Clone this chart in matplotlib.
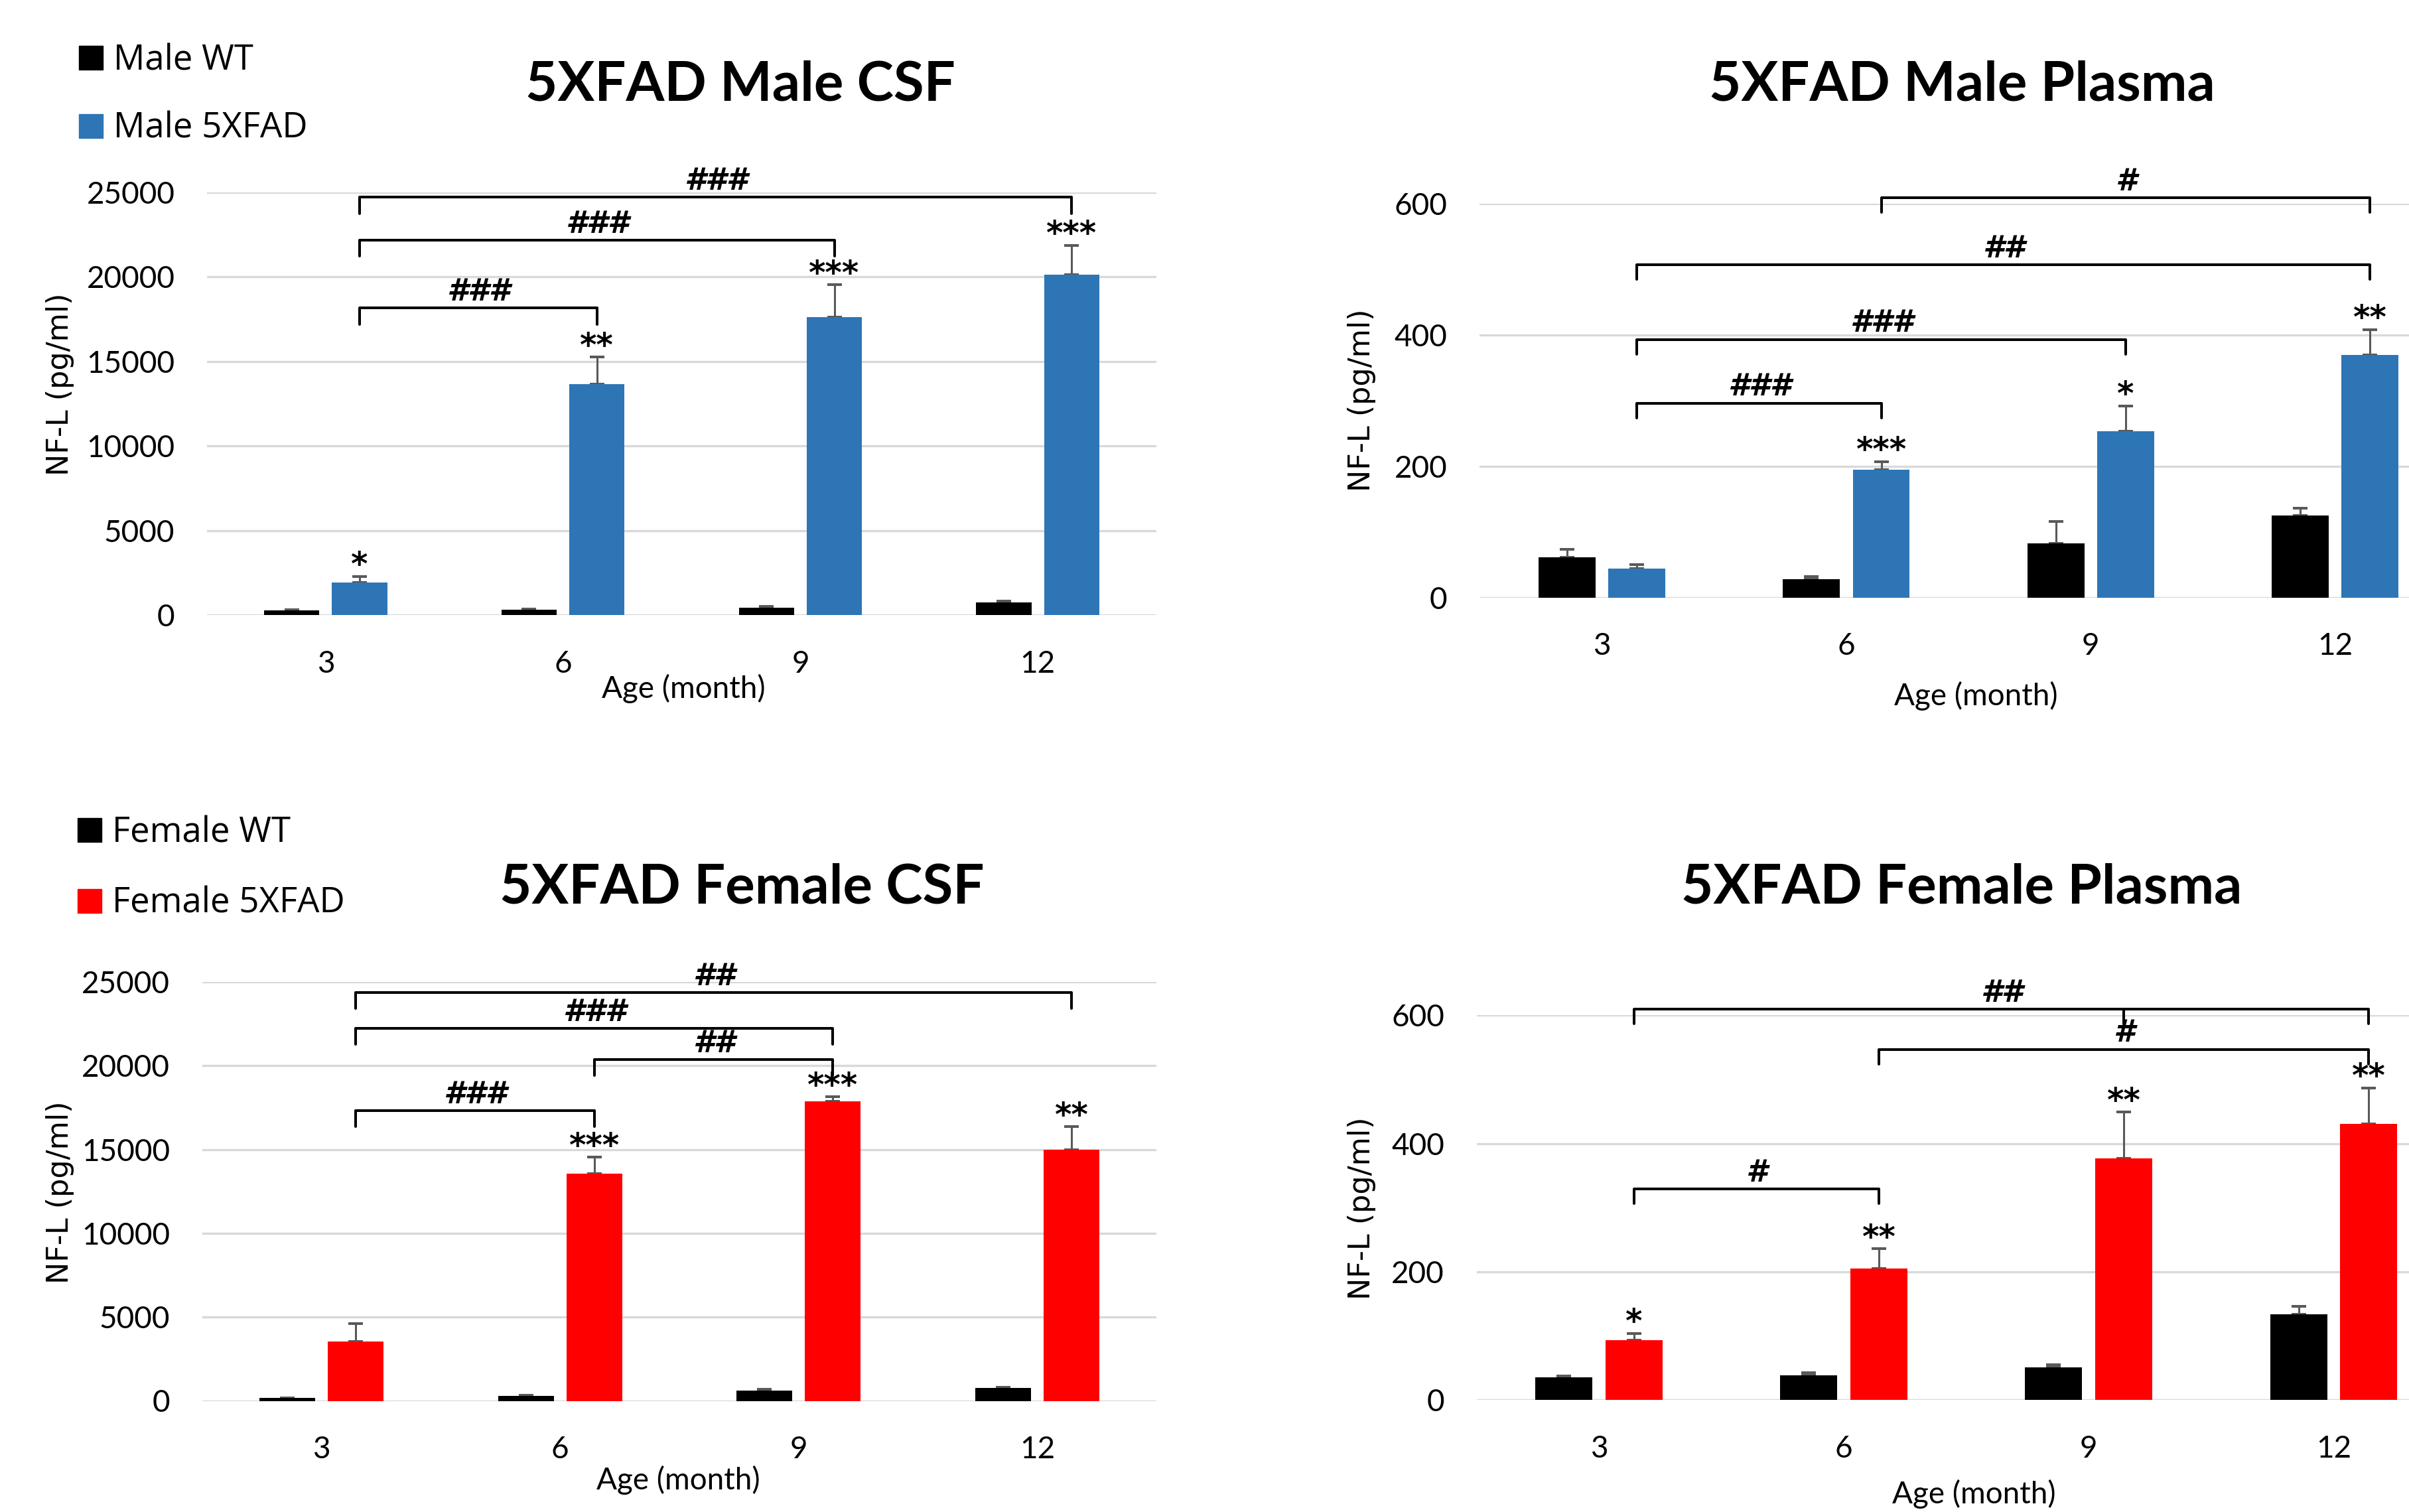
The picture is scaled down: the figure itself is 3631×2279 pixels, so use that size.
import numpy as np
import matplotlib.pyplot as plt
from matplotlib.patches import Rectangle

plt.rcParams['font.family'] = ['Lato', 'DejaVu Sans']

#   DADOS - NF-L (pg/ml) por idade
idades = ['3', '6', '9', '12']

# macho - CSF
m_csf_wt = [280, 340, 430, 760]
m_csf_wt_err = [60, 20, 80, 75]
m_csf_tg = [1930, 13640, 17630, 20130]
m_csf_tg_err = [370, 1620, 1890, 1730]
m_csf_estrelas = ['*', '**', '***', '***']
m_csf_chaves = [(0, 1, 18150, '###'), (0, 2, 22160, '###'), (0, 3, 24700, '###')]

# macho - plasma
m_pl_wt = [61, 28, 83, 125]
m_pl_wt_err = [12, 4, 33, 11]
m_pl_tg = [44, 195, 253, 369]
m_pl_tg_err = [6, 12, 39, 39]
m_pl_estrelas = ['', '***', '*', '**']
m_pl_chaves = [(0, 1, 296, '###'), (0, 2, 393, '###'), (0, 3, 507, '##'), (1, 3, 609, '#')]

# femea - CSF
f_csf_wt = [180, 290, 610, 790]
f_csf_wt_err = [10, 60, 75, 20]
f_csf_tg = [3560, 13570, 17870, 14980]
f_csf_tg_err = [1050, 970, 280, 1370]
f_csf_estrelas = ['', '***', '***', '**']
f_csf_chaves = [(0, 1, 17320, '###'), (1, 2, 20360, '##'), (0, 2, 22220, '###'), (0, 3, 24360, '##')]

# femea - plasma
f_pl_wt = [35, 38, 51, 134]
f_pl_wt_err = [2, 4, 4, 12]
f_pl_tg = [93, 205, 377, 431]
f_pl_tg_err = [11, 31, 72, 56]
f_pl_estrelas = ['*', '**', '**', '**']
f_pl_chaves = [(0, 1, 329, '#'), (1, 3, 547, '#'), (0, 3, 610, '##', 2)]

legenda_macho = ['Male WT', 'Male 5XFAD']
legenda_femea = ['Female WT', 'Female 5XFAD']

AZUL = '#2E75B6'
VERMELHO = '#FF0000'
CINZA_GRADE = '#D9D9D9'
CINZA_ERRO = '#595959'

W, H = 3631, 2279
fig = plt.figure(figsize=(W / 100, H / 100), dpi=100)


def px(x, y):
    # converte pixel (origem no topo) para fração da figura
    return x / W, 1 - y / H


def painel(rect, wt, wt_err, tg, tg_err, cor, ymax, passo, estrelas, chaves):
    ax = fig.add_axes(rect)
    x = np.arange(len(idades))
    larg = 0.233
    desl = 0.143
    ax.bar(x - desl, wt, larg, color='black', zorder=3)
    ax.bar(x + desl, tg, larg, color=cor, zorder=3)
    # barras de erro só para cima
    ax.errorbar(x - desl, wt, yerr=[np.zeros(len(wt)), wt_err], fmt='none',
                ecolor=CINZA_ERRO, elinewidth=2.2, capsize=8, capthick=2.9, zorder=2)
    ax.errorbar(x + desl, tg, yerr=[np.zeros(len(tg)), tg_err], fmt='none',
                ecolor=CINZA_ERRO, elinewidth=2.2, capsize=8, capthick=2.9, zorder=2)

    ax.set_xlim(-0.5, len(idades) - 0.5)
    ax.set_ylim(0, ymax)
    ax.set_yticks(np.arange(0, ymax + 1, passo))
    ax.set_xticks(x)
    ax.set_xticklabels(idades)
    ax.tick_params(axis='y', length=0, labelsize=33, pad=35)
    ax.tick_params(axis='x', length=0, labelsize=33, pad=38)
    for s in ax.spines.values():
        s.set_visible(False)
    ax.yaxis.grid(True, color=CINZA_GRADE, linewidth=2.4)
    ax.set_axisbelow(True)

    # asteriscos sobre as barras 5XFAD
    for i, e in enumerate(estrelas):
        if e:
            ax.annotate(e, xy=(i + desl, tg[i] + tg_err[i]), xytext=(0, 1),
                        textcoords='offset points', ha='center', va='baseline',
                        family='DejaVu Sans', fontsize=35, fontweight='bold')

    # chaves de comparação entre idades
    perna = 0.038 * ymax
    for c in chaves:
        i, j, h, txt = c[:4]
        xi, xj = i + desl, j + desl
        ax.plot([xi, xi, xj, xj], [h - perna, h, h, h - perna], color='black',
                lw=2.9, clip_on=False, solid_joinstyle='round', solid_capstyle='round', zorder=4)
        if len(c) > 4:
            xm = c[4] + desl
            ax.plot([xm, xm], [h, h - perna], color='black', lw=2.9, clip_on=False,
                    solid_capstyle='round', zorder=4)
        ax.annotate(txt, xy=((xi + xj) / 2, h), xytext=(0, 8), textcoords='offset points',
                    ha='center', va='baseline', family='DejaVu Sans', fontsize=33,
                    fontweight='bold', fontstyle='oblique', annotation_clip=False)
    return ax


ax1 = painel([312 / W, 1 - 927.4 / H, 1431 / W, 637.7 / H], m_csf_wt, m_csf_wt_err,
             m_csf_tg, m_csf_tg_err, AZUL, 25000, 5000, m_csf_estrelas, m_csf_chaves)
ax2 = painel([2230.3 / W, 1 - 900.7 / H, 1473.6 / W, 594.1 / H], m_pl_wt, m_pl_wt_err,
             m_pl_tg, m_pl_tg_err, AZUL, 600, 200, m_pl_estrelas, m_pl_chaves)
ax3 = painel([304.7 / W, 1 - 2111.5 / H, 1438.6 / W, 631.5 / H], f_csf_wt, f_csf_wt_err,
             f_csf_tg, f_csf_tg_err, VERMELHO, 25000, 5000, f_csf_estrelas, f_csf_chaves)
ax4 = painel([2225.5 / W, 1 - 2110 / H, 1476.4 / W, 579.6 / H], f_pl_wt, f_pl_wt_err,
             f_pl_tg, f_pl_tg_err, VERMELHO, 600, 200, f_pl_estrelas, f_pl_chaves)

#   TÍTULOS
titulos = [('5XFAD Male CSF', 1116, 151), ('5XFAD Male Plasma', 2957, 151),
           ('5XFAD Female CSF', 1118, 1362), ('5XFAD Female Plasma', 2957, 1362)]
for t, x, y in titulos:
    fig.text(*px(x, y), t, fontsize=60, fontweight='bold', ha='center', va='baseline')

#   RÓTULOS DOS EIXOS
for x, y in [(90, 579), (2052, 603), (91, 1797), (2052, 1821)]:
    fig.text(*px(x, y), 'NF-L (pg/ml)', family='DejaVu Sans', fontsize=32,
             rotation=90, ha='center', va='center')
for x, y in [(1030, 1052), (2978, 1063), (1022, 2245), (2975, 2266)]:
    fig.text(*px(x, y), 'Age (month)', fontsize=33, ha='center', va='baseline')

#   LEGENDAS
def legenda(nomes, cores, x0, tops, lado):
    for nome, cor, topo in zip(nomes, cores, tops):
        fx, fy = px(x0, topo + lado)
        fig.add_artist(Rectangle((fx, fy), lado / W, lado / H, color=cor,
                                 transform=fig.transFigure))
        fig.text(*px(x0 + lado + 16, topo + lado), nome, family='Open Sans',
                 fontsize=38, ha='left', va='baseline')


legenda(legenda_macho, ['black', AZUL], 119, [69, 172], 36)
legenda(legenda_femea, ['black', VERMELHO], 117, [1233, 1340], 36)

plt.savefig('out.png', dpi=100)
